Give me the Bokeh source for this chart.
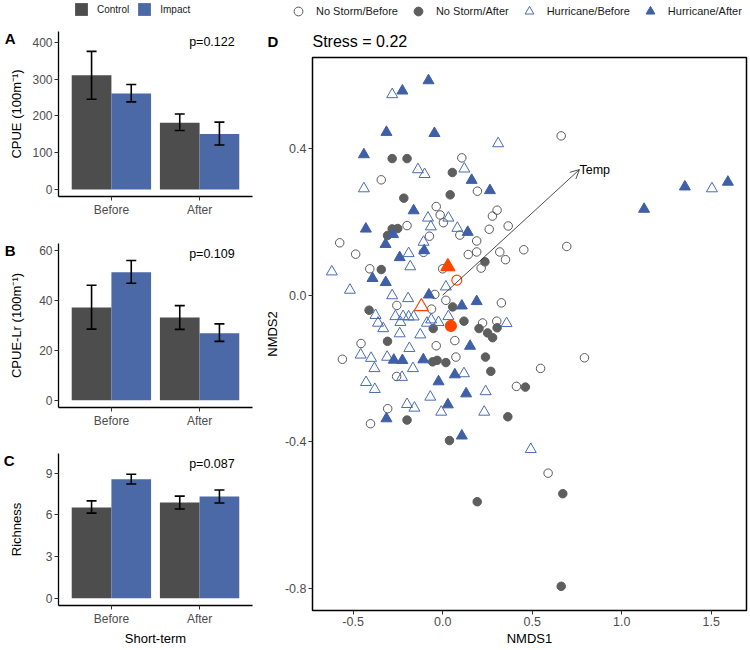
import numpy as np
from bokeh.plotting import figure
from bokeh.layouts import row, column
from bokeh.models import (ColumnDataSource, Whisker, TeeHead, Label, Range1d, FixedTicker,
                          PrintfTickFormatter, Arrow, OpenHead, Legend, LegendItem, LinearAxis)
from bokeh.core.properties import value
from bokeh.embed import file_html
from bokeh.resources import INLINE

FONT = "Liberation Sans"
GRAY_BAR = "#4D4D4D"
BLUE_BAR = "#4A69A6"
PT_GRAY = "#5E5E5E"
PT_BLUE = "#3F5FA6"
OPEN_GRAY = "#5A5A5A"
OPEN_BLUE = "#4A6CB5"
ORANGE = "#FF4500"
NAN = float("nan")

# ---------------- bar panels data ----------------
periods = ["Before", "After"]
groups = ["Control", "Impact"]

cpue_control = [310, 181]
cpue_control_lo = [245, 160]
cpue_control_hi = [375, 205]
cpue_impact = [261, 151]
cpue_impact_lo = [238, 121]
cpue_impact_hi = [285, 183]

lr_control = [37.0, 33.0]
lr_control_lo = [28.4, 28.3]
lr_control_hi = [45.9, 37.8]
lr_impact = [51.1, 26.8]
lr_impact_lo = [46.7, 23.5]
lr_impact_hi = [55.8, 30.5]

rich_control = [6.53, 6.90]
rich_control_lo = [6.13, 6.43]
rich_control_hi = [7.01, 7.35]
rich_impact = [8.56, 7.33]
rich_impact_lo = [8.23, 6.86]
rich_impact_hi = [8.93, 7.79]

p_values = ["p=0.122", "p=0.109", "p=0.087"]
panel_letters = ["A", "B", "C", "D"]

# ---------------- NMDS data ----------------
ns_before_x = [0.107, 0.662, -0.343, 0.194, -0.036, -0.014, 0.004, -0.199, 0.096, -0.074, 0.190, 0.278,
               0.304, 0.260, 0.366, -0.575, -0.486, -0.107, 0.143, 0.190, 0.319, 0.351, -0.407, 0.215,
               0.000, -0.044, 0.453, 0.693, -0.256, -0.062, 0.018, 0.223, 0.302, 0.328, -0.456, -0.560,
               -0.036, 0.068, 0.074, -0.257, 0.412, -0.307, -0.403, 0.792, 0.547, 0.589]
ns_before_y = [0.375, 0.435, 0.315, 0.284, 0.242, 0.219, 0.198, 0.190, 0.164, 0.161, 0.148, 0.216,
               0.232, 0.180, 0.189, 0.143, 0.112, 0.117, 0.111, 0.118, 0.118, 0.097, 0.072, 0.074,
               0.072, 0.002, 0.124, 0.133, -0.028, -0.038, -0.014, -0.076, -0.071, -0.021, -0.132, -0.175,
               -0.138, -0.124, -0.169, -0.222, -0.249, -0.310, -0.351, -0.171, -0.200, -0.486]

ns_after_x = [-0.282, -0.199, 0.054, -0.217, 0.042, -0.282, -0.251, -0.308, -0.343, 0.236, -0.411, 0.056,
              -0.053, 0.119, 0.203, 0.251, 0.279, 0.304, -0.308, -0.056, -0.031, 0.018, 0.239, 0.269,
              -0.199, 0.038, 0.364, 0.462, 0.671, 0.193, 0.662]
ns_after_y = [0.373, 0.373, 0.335, 0.265, 0.274, 0.181, 0.182, 0.163, 0.070, 0.091, -0.041, -0.032,
              -0.091, -0.071, -0.091, -0.103, -0.116, -0.089, -0.126, -0.182, -0.178, -0.184, -0.169, -0.208,
              -0.341, -0.397, -0.332, -0.251, -0.542, -0.564, -0.795]

hu_before_x = [-0.282, 0.310, -0.138, -0.101, 0.121, -0.440, -0.082, 0.032, -0.066, 0.082, -0.107, -0.190,
               -0.181, -0.619, -0.518, 0.018, -0.282, -0.193, -0.375, -0.361, -0.332, -0.264, -0.236, -0.221,
               -0.190, -0.162, -0.088, -0.064, -0.023, 0.032, 0.357, -0.240, -0.125, -0.186, -0.458, -0.400,
               -0.310, -0.381, -0.166, 0.119, -0.227, -0.428, -0.379, 0.240, -0.069, -0.199, -0.158, -0.008,
               0.232, 1.504, 0.492]
hu_before_y = [0.548, 0.414, 0.343, 0.330, 0.345, 0.291, 0.211, 0.211, 0.187, 0.183, 0.145, 0.114,
               0.078, 0.064, 0.014, 0.023, -0.001, -0.009, -0.055, -0.076, -0.091, -0.058, -0.074, -0.058,
               -0.059, -0.059, -0.076, -0.067, -0.074, -0.058, -0.077, -0.105, -0.108, -0.145, -0.163, -0.172,
               -0.169, -0.200, -0.200, -0.214, -0.224, -0.238, -0.257, -0.263, -0.278, -0.298, -0.308, -0.319,
               -0.319, 0.291, -0.421]

hu_after_x = [-0.225, -0.079, -0.314, -0.046, -0.440, 0.162, 0.264, -0.162, -0.429, -0.277, -0.319, 0.140,
              -0.103, -0.240, -0.392, -0.318, -0.077, 1.353, 1.593, 1.125, 0.107, 0.190, 0.153, -0.273,
              -0.225, -0.108, 0.068, -0.023, 0.131, 0.029, -0.314, 0.107]
hu_after_y = [0.558, 0.586, 0.445, 0.442, 0.384, 0.314, 0.286, 0.231, 0.181, 0.166, 0.139, 0.172,
              0.122, 0.103, 0.046, 0.035, 0.001, 0.296, 0.309, 0.235, -0.029, -0.017, -0.139, -0.177,
              -0.178, -0.176, -0.217, -0.236, -0.269, -0.299, -0.337, -0.384]

# group centroids: No Storm/Before, No Storm/After, Hurricane/Before, Hurricane/After
centroid_x = [0.079, 0.046, -0.119, 0.029]
centroid_y = [0.041, -0.084, -0.031, 0.078]

envfit_x = [0.764]
envfit_y = [0.343]
envfit_labels = ["Temp"]

nmds_groups = ["No Storm/Before", "No Storm/After", "Hurricane/Before", "Hurricane/After"]
stress_text = "Stress = 0.22"

LEFT_W = 260
D_W = 488


def style_axes(p, tick_size="12px"):
    for ax in p.axis:
        ax.axis_line_color = "black"
        ax.axis_line_width = 1.3
        ax.major_tick_line_color = "#333333"
        ax.major_tick_line_width = 1
        ax.major_tick_out = 4
        ax.major_tick_in = 0
        ax.minor_tick_line_color = None
        ax.major_label_text_font = FONT
        ax.major_label_text_font_size = tick_size
        ax.major_label_text_color = "#4D4D4D"
        ax.major_label_standoff = 2
        ax.axis_label_text_font = FONT
        ax.axis_label_text_font_size = "13px"
        ax.axis_label_text_font_style = "normal"
        ax.axis_label_text_color = "black"
        ax.axis_label_standoff = 2
    p.grid.visible = False


def strip(width, height):
    s = figure(width=width, height=height, x_range=Range1d(0, width), y_range=Range1d(0, height),
               output_backend="svg", toolbar_location=None, x_axis_location=None, y_axis_location=None,
               min_border=0, min_border_left=0, min_border_right=0, min_border_top=0, min_border_bottom=0,
               frame_align=False)
    s.outline_line_color = None
    s.grid.visible = False
    return s


def bar_panel(ctrl, ctrl_lo, ctrl_hi, imp, imp_lo, imp_hi, yr, yticks, ylabel, letter, ptext,
              height, top, bottom, label_standoff, xlabel=None):
    p = figure(width=LEFT_W, height=height, x_range=Range1d(0.4, 2.6), y_range=Range1d(*yr),
               output_backend="svg", toolbar_location=None, frame_align=False,
               min_border_left=58, min_border_right=8, min_border_top=top, min_border_bottom=bottom)
    p.outline_line_color = None
    pos = np.arange(1, len(periods) + 1)
    dodge = 0.225
    p.vbar(x=pos - dodge, top=ctrl, bottom=0, width=0.45, fill_color=GRAY_BAR, line_color=None)
    p.vbar(x=pos + dodge, top=imp, bottom=0, width=0.45, fill_color=BLUE_BAR, line_color=None)
    for xs, lo, hi in ((pos - dodge, ctrl_lo, ctrl_hi), (pos + dodge, imp_lo, imp_hi)):
        src = ColumnDataSource(dict(base=list(xs), lower=lo, upper=hi))
        w = Whisker(source=src, base="base", lower="lower", upper="upper",
                    line_width=1.6, line_color="black",
                    upper_head=TeeHead(size=10, line_width=1.6, line_color="black"),
                    lower_head=TeeHead(size=10, line_width=1.6, line_color="black"))
        w.level = "overlay"
        p.add_layout(w)
    style_axes(p)
    p.xaxis.ticker = FixedTicker(ticks=[int(v) for v in pos])
    p.xaxis.major_label_overrides = {int(v): lab for v, lab in zip(pos, periods)}
    p.yaxis.ticker = FixedTicker(ticks=yticks)
    p.yaxis.axis_label = ylabel
    p.yaxis.axis_label_standoff = label_standoff
    if xlabel:
        p.xaxis.axis_label = xlabel
    p.add_layout(Label(x=2.14, y=yr[1], y_offset=-10, text=ptext, text_align="center",
                       text_baseline="middle", text_font=FONT, text_font_size="12.5px",
                       text_color="black"))
    # panel letter: a bare outer axis carrying one labelled tick just below the frame top
    frame_h = height - top - bottom
    y_letter = round(yr[1] - 7.0 * (yr[1] - yr[0]) / frame_h, 3)
    lax = LinearAxis(ticker=FixedTicker(ticks=[y_letter]), major_label_overrides={y_letter: letter},
                     axis_line_color=None, major_tick_line_color=None, minor_tick_line_color=None,
                     major_tick_out=0, major_tick_in=0, major_label_standoff=-9,
                     major_label_text_font=FONT, major_label_text_font_size="15px",
                     major_label_text_font_style="bold", major_label_text_color="black")
    p.add_layout(lax, "left")
    return p


# top strip with the Control / Impact legend
stripL = strip(LEFT_W, 26)
g1 = stripL.vbar(x=[NAN], top=[NAN], width=1, fill_color=GRAY_BAR, line_color=None)
g2 = stripL.vbar(x=[NAN], top=[NAN], width=1, fill_color=BLUE_BAR, line_color=None)
legL = Legend(items=[LegendItem(label=groups[0], renderers=[g1]),
                     LegendItem(label=groups[1], renderers=[g2])],
              orientation="horizontal", location=(73, 9),
              glyph_width=16, glyph_height=16, label_height=16, label_standoff=8,
              spacing=7, padding=0, margin=0, border_line_color=None,
              background_fill_alpha=0, label_text_font=FONT, label_text_font_size="10px",
              label_text_color="#1a1a1a")
stripL.add_layout(legL)

pA = bar_panel(cpue_control, cpue_control_lo, cpue_control_hi, cpue_impact, cpue_impact_lo, cpue_impact_hi,
               (-19, 429), [0, 100, 200, 300, 400], "CPUE (100m\u207b\u00b9)", panel_letters[0], p_values[0],
               height=196, top=5, bottom=26, label_standoff=5)
pB = bar_panel(lr_control, lr_control_lo, lr_control_hi, lr_impact, lr_impact_lo, lr_impact_hi,
               (-2.9, 62.6), [0, 20, 40, 60], "CPUE-Lr (100m\u207b\u00b9)", panel_letters[1], p_values[1],
               height=211, top=21, bottom=26, label_standoff=12)
pC = bar_panel(rich_control, rich_control_lo, rich_control_hi, rich_impact, rich_impact_lo, rich_impact_hi,
               (-0.52, 10.42), [0, 3, 6, 9], "Richness", panel_letters[2], p_values[2],
               height=215, top=20, bottom=36, label_standoff=19, xlabel="Short-term")

# ---------------- NMDS panel ----------------
xr = (-0.727, 1.697)
yr = (-0.861, 0.649)
pD = figure(width=D_W, height=593, x_range=Range1d(*xr), y_range=Range1d(*yr),
            output_backend="svg", toolbar_location=None, frame_align=False,
            min_border_left=52, min_border_right=2, min_border_top=2, min_border_bottom=34)
pD.outline_line_color = "black"
pD.outline_line_width = 1.5
style_axes(pD, tick_size="12.5px")
for ax in pD.axis:
    ax.axis_line_color = None
pD.xaxis.ticker = FixedTicker(ticks=[-0.5, 0.0, 0.5, 1.0, 1.5])
pD.yaxis.ticker = FixedTicker(ticks=[-0.8, -0.4, 0.0, 0.4])
pD.xaxis.formatter = PrintfTickFormatter(format="%.1f")
pD.yaxis.formatter = PrintfTickFormatter(format="%.1f")
pD.xaxis.axis_label = "NMDS1"
pD.yaxis.axis_label = "NMDS2"

styles = [dict(marker="circle", size=8.5, fill_color=None, line_color=OPEN_GRAY, line_width=1),
          dict(marker="circle", size=8.5, fill_color=PT_GRAY, line_color=PT_GRAY, line_width=1),
          dict(marker="triangle", size=11, fill_color=None, line_color=OPEN_BLUE, line_width=1),
          dict(marker="triangle", size=11, fill_color=PT_BLUE, line_color=PT_BLUE, line_width=1)]
series = [(ns_before_x, ns_before_y), (ns_after_x, ns_after_y),
          (hu_before_x, hu_before_y), (hu_after_x, hu_after_y)]
for (sx, sy), st in zip(series, styles):
    pD.scatter(x=sx, y=sy, **st)

cent_markers = ["circle", "circle", "triangle", "triangle"]
cent_fills = [None, ORANGE, None, ORANGE]
cent_sizes = [10, 11, 14, 14]
for i in range(len(centroid_x)):
    pD.scatter(x=[centroid_x[i]], y=[centroid_y[i]], marker=cent_markers[i], size=cent_sizes[i],
               fill_color=cent_fills[i], line_color=ORANGE, line_width=1.2)

pD.add_layout(Arrow(end=OpenHead(size=9, line_width=0.8, line_color="#222222"),
                    x_start=0, y_start=0, x_end=envfit_x[0], y_end=envfit_y[0],
                    line_width=0.8, line_color="#222222"))
pD.text(x=envfit_x, y=envfit_y, text=envfit_labels, text_font=value(FONT), text_font_size="12.5px",
        text_baseline="middle", text_align="left", text_color="black")

# top strip of panel D: legend, letter and stress value
stripD = strip(D_W, 55)
dummies = [stripD.scatter(x=[NAN], y=[NAN], **st) for st in styles]
legD = Legend(items=[LegendItem(label=lab, renderers=[r]) for lab, r in zip(nmds_groups, dummies)],
              orientation="horizontal", location=(27, 33),
              glyph_width=22, glyph_height=22, label_height=22, label_standoff=7,
              spacing=9, padding=0, margin=0, border_line_color=None,
              background_fill_alpha=0, label_text_font=FONT, label_text_font_size="11px",
              label_text_color="#1a1a1a")
stripD.add_layout(legD)
stripD.add_layout(Label(x=52, y=14, text=stress_text, text_font=FONT, text_font_size="16px",
                        text_baseline="middle", text_color="black"))
stripD.add_layout(Label(x=7, y=14, text=panel_letters[3], text_font=FONT, text_font_size="15px",
                        text_font_style="bold", text_baseline="middle", text_color="black"))

layout = row(column(stripL, pA, pB, pC), column(stripD, pD))
open("out.html", "w").write(file_html(layout, INLINE))
